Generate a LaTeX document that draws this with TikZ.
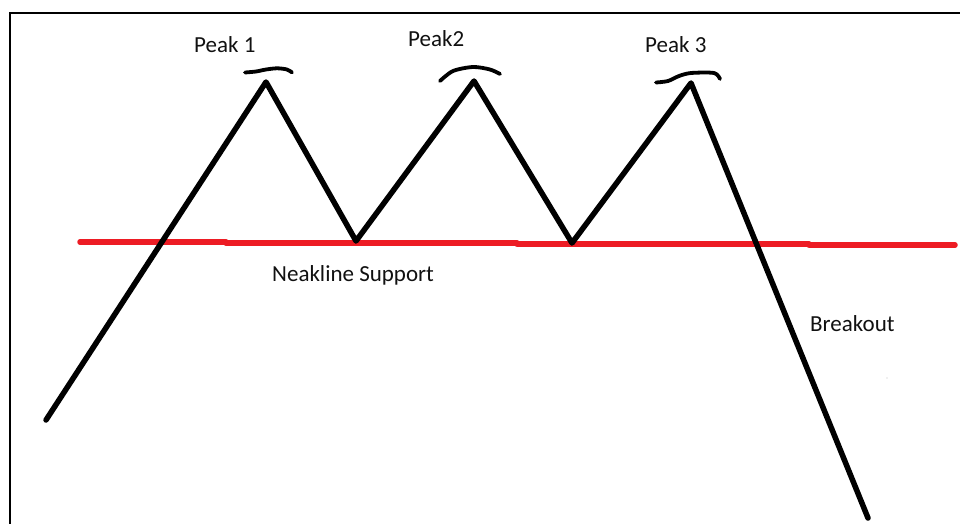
\documentclass[tikz,border=0pt]{standalone}
\usepackage{fontspec}
\setmainfont{Carlito}
\definecolor{paintred}{HTML}{ED1C24}
\definecolor{inkblack}{HTML}{111111}
\begin{document}
\begin{tikzpicture}[x=1pt,y=-1pt,
  priceline/.style={draw=black,line width=5.5pt,line cap=round,line join=round},
  neckline/.style={draw=paintred,line width=5.5pt,line cap=round},
  peakmark/.style={draw=black,line width=3.8pt,line cap=round,line join=round},
  frameline/.style={draw=black,line width=2pt},
  lbl/.style={anchor=base west,inner sep=0pt,text=inkblack,font=\fontsize{23}{27}\selectfont}]
\useasboundingbox (0,0) rectangle (960,523);
\fill[white] (0,0) rectangle (960,523);
% frame
\coordinate (fa) at (10,530);
\coordinate (fb) at (10,12.7);
\coordinate (fc) at (965,12.7);
\draw[frameline] (fa) -- (fb) -- (fc);
% neckline support (red, hand drawn in pieces)
\coordinate (r0) at (80,242);
\coordinate (r1) at (226,242);
\coordinate (r2) at (226,243);
\coordinate (r3) at (517,243);
\coordinate (r4) at (517,244);
\coordinate (r5) at (809,244);
\coordinate (r6) at (809,245);
\coordinate (r7) at (955,245);
\draw[neckline] (r0) -- (r1);
\draw[neckline] (r2) -- (r3);
\draw[neckline] (r4) -- (r5);
\draw[neckline] (r6) -- (r7);
% price path
\coordinate (start) at (46,420);
\coordinate (p1) at (266,82);
\coordinate (t1) at (356,241);
\coordinate (p2) at (474,81);
\coordinate (t2) at (572,243);
\coordinate (p3) at (691,83);
\coordinate (brk) at (868,518);
\draw[priceline] (start) -- (p1) -- (t1) -- (p2) -- (t2) -- (p3) -- (brk);
% peak marks
\draw[peakmark] plot[smooth] coordinates {(245,72.5) (256,71.5) (266,69.5) (277,68.3) (287,69.5) (292,72.5)};
\draw[peakmark] plot[smooth] coordinates {(440,81) (453,71) (473,67) (490,69.5) (500,74)};
\draw[peakmark] plot[smooth] coordinates {(656,82.5) (668,81) (679,76) (691,73) (714,73) (720,79)};
% speck
\fill[black!25] (887,378) circle (0.7);
% labels
\node[lbl] (l1) at (194,52) {Peak 1};
\node[lbl] (l2) at (408,46) {Peak2};
\node[lbl] (l3) at (645,52) {Peak 3};
\node[lbl] (ln) at (272,281) {Neakline Support};
\node[lbl] (lb) at (810,331) {Breakout};
\end{tikzpicture}
\end{document}
